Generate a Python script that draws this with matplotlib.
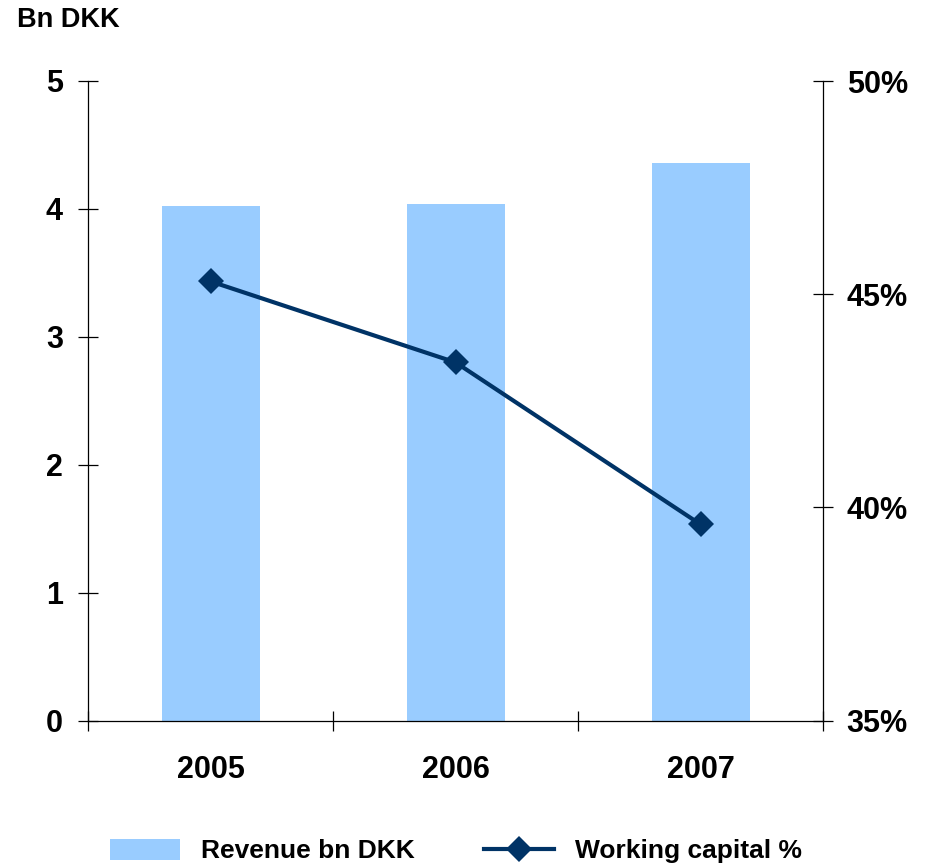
import matplotlib
matplotlib.use("Agg")
import matplotlib.pyplot as plt
from matplotlib.lines import Line2D
from matplotlib.patches import Patch

plt.rcParams['font.family'] = ['Liberation Sans', 'DejaVu Sans']
plt.rcParams['font.weight'] = 'bold'

years = ['2005', '2006', '2007']
revenue_bn_dkk = [4.02, 4.04, 4.36]
working_capital_pct = [45.3, 43.4, 39.6]
left_ticks = [0, 1, 2, 3, 4, 5]
right_ticks = [35, 40, 45, 50]

bar_color = '#99CCFF'
line_color = '#003366'
axis_color = '#000000'

fig = plt.figure(figsize=(9.26, 8.67), dpi=100)
ax = fig.add_axes([88 / 926, 1 - 720.5 / 867, (823 - 88) / 926, (720.5 - 81) / 867])
ax2 = ax.twinx()

x = list(range(len(years)))
ax.bar(x, revenue_bn_dkk, width=0.4, color=bar_color, zorder=2)
ax2.plot(x, working_capital_pct, color=line_color, lw=3, marker='D',
         markersize=13, markeredgewidth=0, zorder=3)

ax.set_xlim(-0.5, len(years) - 0.5)
ax.set_ylim(0, 5)
ax2.set_ylim(35, 50)

# category boundaries carry the tick marks, centres carry the labels
ax.set_xticks([i - 0.5 for i in range(len(years) + 1)])
ax.set_xticklabels([])
ax.set_xticks(x, minor=True)
ax.set_xticklabels(years, minor=True, fontsize=22, fontweight='bold')
ax.tick_params(axis='x', which='minor', length=0, pad=25)
ax.tick_params(axis='x', which='major', direction='inout', length=14, width=0.9,
               color=axis_color)

ax.set_yticks(left_ticks)
ax.set_yticklabels([str(t) for t in left_ticks], fontsize=22, fontweight='bold')
ax.tick_params(axis='y', direction='inout', length=14, width=0.9, pad=11,
               color=axis_color)

ax2.set_yticks(right_ticks)
ax2.set_yticklabels([f'{t}%' for t in right_ticks], fontsize=22, fontweight='bold')
ax2.tick_params(axis='y', direction='inout', length=14, width=0.9, pad=10,
                color=axis_color)

for a in (ax, ax2):
    a.spines['top'].set_visible(False)
    for s in a.spines.values():
        s.set_linewidth(0.9)
        s.set_color(axis_color)
ax.spines['right'].set_visible(False)
ax2.spines['left'].set_visible(False)
ax2.spines['bottom'].set_visible(False)
ax.set_zorder(1)
ax2.set_zorder(2)
ax2.patch.set_visible(False)

fig.text(17 / 926, 1 - 26.7 / 867, 'Bn DKK', fontsize=19.5, fontweight='bold',
         ha='left', va='baseline')

handles = [
    Patch(facecolor=bar_color, edgecolor='none'),
    Line2D([], [], color=line_color, lw=3, marker='D', markersize=13,
           markeredgewidth=0),
]
fig.legend(handles, ['Revenue bn DKK', 'Working capital %'],
           loc='center', bbox_to_anchor=(456 / 926, 1 - 851 / 867), ncol=2,
           frameon=False, prop={'size': 19, 'weight': 'bold'},
           handlelength=2.65, handleheight=0.85, handletextpad=0.8,
           columnspacing=2.6, borderpad=0)

fig.savefig('out.png', dpi=100)
